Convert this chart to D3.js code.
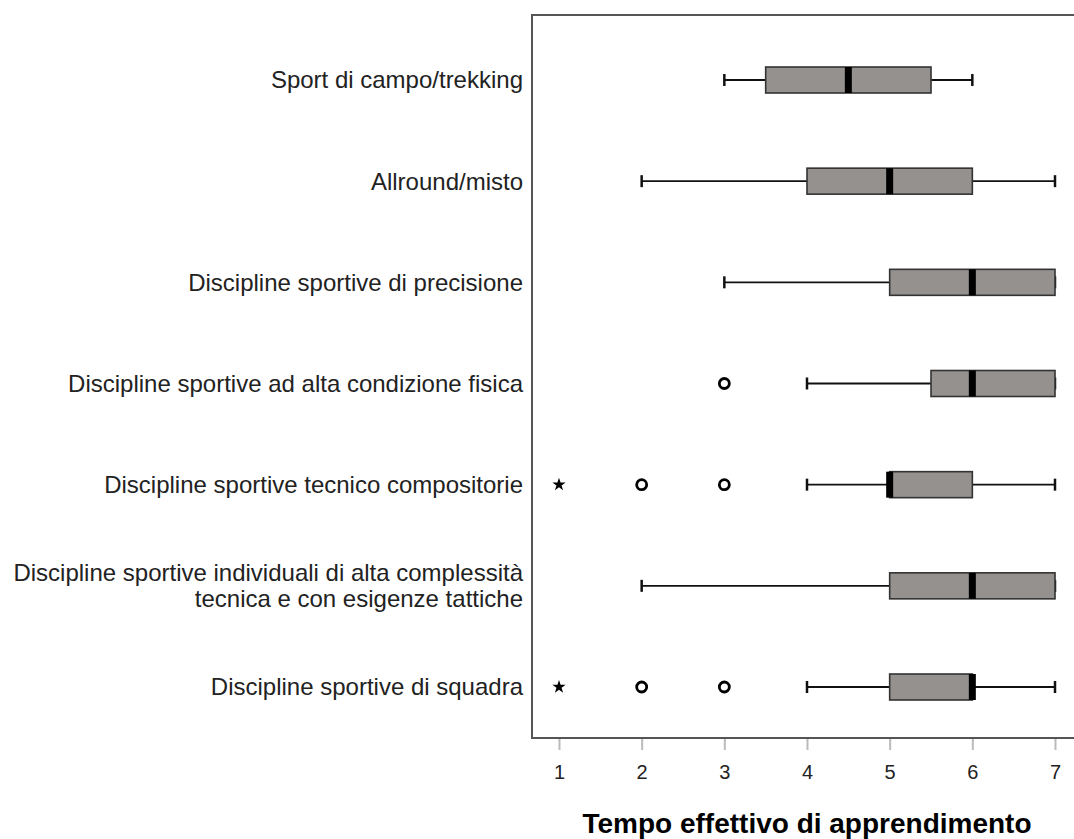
<!DOCTYPE html>
<html>
<head>
<meta charset="utf-8">
<script src="https://cdn.jsdelivr.net/npm/d3@7"></script>
<style>
  html, body { margin: 0; padding: 0; background: #fff; }
  svg { display: block; }
  text { font-family: "Liberation Sans", Arial, sans-serif; }
</style>
</head>
<body>
<script>
// ---- data ----
const categories = [
  "Sport di campo/trekking",
  "Allround/misto",
  "Discipline sportive di precisione",
  "Discipline sportive ad alta condizione fisica",
  "Discipline sportive tecnico compositorie",
  "Discipline sportive individuali di alta complessità\ntecnica e con esigenze tattiche",
  "Discipline sportive di squadra"
];
const whiskerLow  = [3,   2, 3, 4,   4, 2, 4];
const q1          = [3.5, 4, 5, 5.5, 5, 5, 5];
const median      = [4.5, 5, 6, 6,   5, 6, 6];
const q3          = [5.5, 6, 7, 7,   6, 7, 6];
const whiskerHigh = [6,   7, 7, 7,   7, 7, 7];
const outliers    = [[], [], [], [3], [2, 3], [], [2, 3]];
const extremes    = [[], [], [], [], [1], [], [1]];
const xTicks      = [1, 2, 3, 4, 5, 6, 7];
const xTitle      = "Tempo effettivo di apprendimento";

// ---- layout ----
const W = 1074, H = 839;
const frame = { left: 532, top: 15, bottom: 738 };

const svg = d3.select("body").append("svg").attr("width", W).attr("height", H);

const x = d3.scaleLinear().domain([1, 7]).range([559, 1055]);
const y = d3.scalePoint().domain(categories).range([80, 687]);

const rows = categories.map((c, i) => ({
  cat: c, lo: whiskerLow[i], q1: q1[i], med: median[i], q3: q3[i], hi: whiskerHigh[i],
  out: outliers[i], ext: extremes[i]
}));

// frame
svg.append("rect")
  .attr("x", frame.left).attr("y", frame.top)
  .attr("width", 600).attr("height", frame.bottom - frame.top)
  .attr("fill", "none").attr("stroke", "#555").attr("stroke-width", 2);

// x axis
const axis = svg.append("g")
  .attr("transform", `translate(0,${frame.bottom + 1})`)
  .call(d3.axisBottom(x).tickValues(xTicks).tickFormat(d3.format("d")).tickSize(11).tickPadding(15));
axis.select(".domain").remove();
axis.selectAll(".tick line").attr("stroke", "#bbb").attr("stroke-width", 2);
axis.selectAll(".tick text").attr("fill", "#222").style("font-size", "20px")
  .style("font-family", "'Liberation Sans', Arial, sans-serif");

// x title
svg.append("text")
  .attr("x", 807).attr("y", 833)
  .attr("text-anchor", "middle")
  .style("font-size", "28px").style("font-weight", "bold").attr("fill", "#000")
  .text(xTitle);

// category labels
const lab = svg.append("g").selectAll("text").data(rows).join("text")
  .attr("text-anchor", "end")
  .attr("fill", "#222")
  .style("font-size", "24px")
  .attr("transform", d => `translate(523,${y(d.cat)})`);
lab.each(function(d) {
  const lines = d.cat.split("\n");
  const lh = 26;
  const start = -(lines.length - 1) * lh / 2;
  d3.select(this).selectAll("tspan").data(lines).join("tspan")
    .attr("x", 0)
    .attr("y", (l, j) => start + j * lh)
    .attr("dy", "0.35em")
    .text(l => l);
});

// boxes
const bh = 26, capH = 12;
const g = svg.append("g").selectAll("g").data(rows).join("g")
  .attr("transform", d => `translate(0,${y(d.cat)})`);

// whiskers
g.append("line").attr("x1", d => x(d.lo)).attr("x2", d => x(d.q1))
  .attr("stroke", "#111").attr("stroke-width", 1.8);
g.append("line").attr("x1", d => x(d.q3)).attr("x2", d => x(d.hi))
  .attr("stroke", "#111").attr("stroke-width", 1.8);
// caps
g.append("line").attr("x1", d => x(d.lo)).attr("x2", d => x(d.lo))
  .attr("y1", -capH / 2).attr("y2", capH / 2).attr("stroke", "#111").attr("stroke-width", 2.5);
g.append("line").attr("x1", d => x(d.hi)).attr("x2", d => x(d.hi))
  .attr("y1", -capH / 2).attr("y2", capH / 2).attr("stroke", "#111").attr("stroke-width", 2.5);
// box
g.append("rect")
  .attr("x", d => x(d.q1)).attr("y", -bh / 2)
  .attr("width", d => x(d.q3) - x(d.q1)).attr("height", bh)
  .attr("fill", "#95918f").attr("stroke", "#333").attr("stroke-width", 1.6);
// median
g.append("rect")
  .attr("x", d => x(d.med) - 3.5).attr("y", -bh / 2)
  .attr("width", 7).attr("height", bh)
  .attr("fill", "#000");

// outliers (circles)
g.each(function(d) {
  d3.select(this).selectAll("circle").data(d.out).join("circle")
    .attr("cx", v => x(v)).attr("cy", 0).attr("r", 5)
    .attr("fill", "none").attr("stroke", "#000").attr("stroke-width", 2.8);
  d3.select(this).selectAll("path.ext").data(d.ext).join("path")
    .attr("class", "ext")
    .attr("transform", v => `translate(${x(v)},0)`)
    .attr("d", d3.symbol().type(d3.symbolStar).size(55))
    .attr("fill", "#000");
});
</script>
</body>
</html>
